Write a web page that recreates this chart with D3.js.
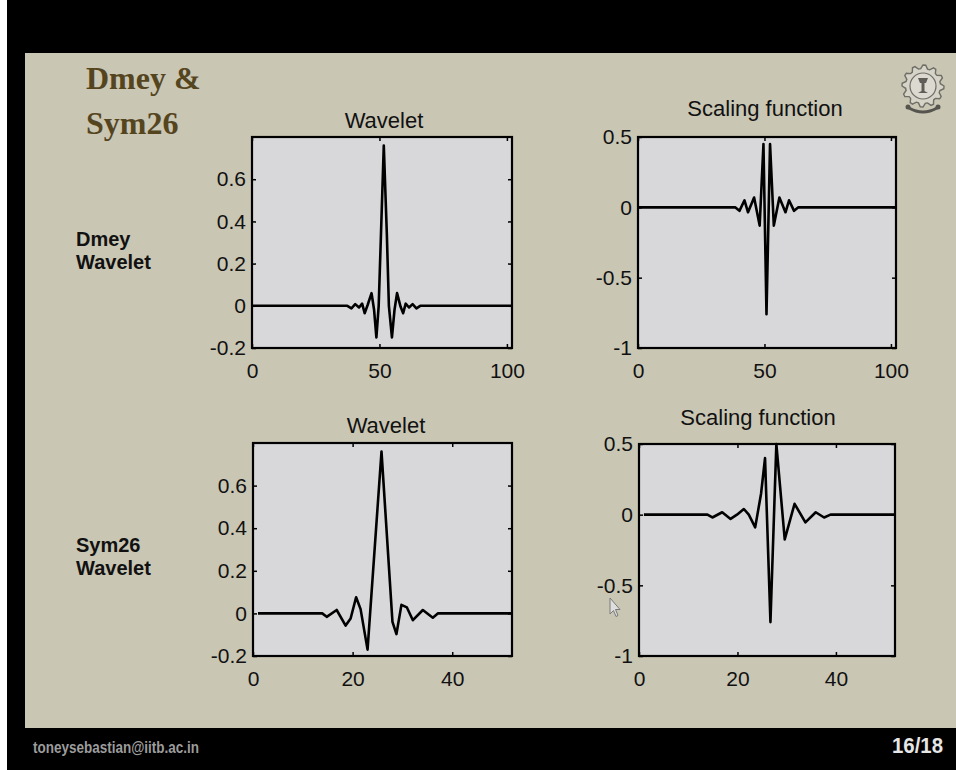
<!DOCTYPE html>
<html lang=en>
  <head>
    <meta charset="utf-8">
    <title>Dmey & Sym26</title>
    <style>
      body { margin: 0; background: #fff; }
      svg { display: block; }
      text { font-family: "Liberation Sans", Arial, sans-serif; }
    </style>
  </head>
  <body>
    <svg width="956" height="770"></svg>
    <script src="https://d3js.org/d3.v7.min.js"></script>
    <script>

      // values, [x, y]
      const dmeyWavelet = [
        [0, 0], [37.4, 0], [39.0, -0.012], [40.5, 0.008], [42.0, -0.008], [43.2, 0.01],
        [44.2, -0.035], [45.4, 0.005], [46.9, 0.06], [47.9, -0.02], [48.8, -0.15],
        [49.7, 0], [50.6, 0.34], [51.7, 0.76], [52.9, 0.34], [53.7, 0], [54.9, -0.15],
        [55.9, -0.02], [56.9, 0.06], [58.3, -0.005], [59.3, -0.035], [60.3, 0.01],
        [61.6, -0.008], [63.0, 0.008], [64.5, -0.012], [66.0, 0], [102, 0]
      ]
      const dmeyScaling = [
        [0, 0], [38.4, 0], [40.1, -0.025], [42.1, 0.05], [43.5, -0.035], [45.9, 0.07],
        [48.1, -0.13], [49.6, 0.45], [50.8, -0.76], [52.2, 0.45], [53.7, -0.13],
        [55.9, 0.07], [58.3, -0.035], [59.7, 0.05], [61.7, -0.025], [63.4, 0], [102, 0]
      ]
      const sym26Wavelet = [
        [1, 0], [13.9, 0], [14.8, -0.016], [16.8, 0.016], [18.6, -0.057], [19.6, -0.024],
        [20.7, 0.076], [21.6, 0.02], [23.0, -0.17], [25.8, 0.76], [28.0, -0.04],
        [28.8, -0.097], [29.8, 0.04], [30.9, 0.028], [32.1, -0.032], [34.1, 0.016],
        [36.1, -0.02], [37.1, 0], [52, 0]
      ]
      const sym26Scaling = [
        [1, 0], [13.9, 0], [14.9, -0.02], [16.9, 0.017], [18.6, -0.03], [19.9, 0],
        [21.3, 0.04], [22.3, 0], [23.6, -0.09], [24.8, 0.15], [25.6, 0.40], [26.7, -0.76],
        [27.9, 0.5], [29.6, -0.175], [31.6, 0.077], [33.8, -0.055], [35.9, 0.017],
        [37.6, -0.02], [38.9, 0], [52, 0]
      ]

      const dmeyXTicks = [0, 50, 100]
      const sym26XTicks = [0, 20, 40]
      const waveletYTicks = [-0.2, 0, 0.2, 0.4, 0.6]
      const scalingYTicks = [-1, -0.5, 0, 0.5]

      const slideTitle = ["Dmey &", "Sym26"]
      const rowLabels = [["Dmey", "Wavelet"], ["Sym26", "Wavelet"]]
      const panelTitles = ["Wavelet", "Scaling function"]

      const svg = d3.select("svg")

      // slide frame
      svg.append("rect").attr("x", 7).attr("width", 949).attr("height", 770).attr("fill", "#000")
      svg.append("rect").attr("x", 25).attr("y", 53).attr("width", 931).attr("height", 675).attr("fill", "#c9c6b4")

      svg.selectAll("text.title")
        .data(slideTitle)
        .enter().append("text")
        .attr("class", "title")
        .attr("x", 86)
        .attr("y", (d, i) => 89 + i * 45)
        .attr("fill", "#55451f")
        .style("font-family", "'Liberation Serif', 'Times New Roman', serif")
        .attr("font-weight", "bold")
        .attr("font-size", 32)
        .text(d => d)

      // row labels
      rowLabels.forEach(function(lines, r) {
        svg.selectAll("text.row" + r)
          .data(lines)
          .enter().append("text")
          .attr("x", 76)
          .attr("y", (d, i) => [246, 552][r] + i * 23)
          .attr("font-size", 20)
          .attr("font-weight", "bold")
          .attr("fill", "#111")
          .text(d => d)
      })

      const panels = [
        {x: 252, y: 137, w: 260, h: 211, xDomain: [0, 102], yDomain: [-0.2, 0.8], xTicks: dmeyXTicks, yTicks: waveletYTicks, data: dmeyWavelet, title: panelTitles[0], tx: 384, ty: 128},
        {x: 638, y: 137, w: 258, h: 211, xDomain: [0, 102], yDomain: [-1, 0.5], xTicks: dmeyXTicks, yTicks: scalingYTicks, data: dmeyScaling, title: panelTitles[1], tx: 765, ty: 116},
        {x: 253, y: 443, w: 259, h: 213, xDomain: [0, 52], yDomain: [-0.2, 0.8], xTicks: sym26XTicks, yTicks: waveletYTicks, data: sym26Wavelet, title: panelTitles[0], tx: 386, ty: 433},
        {x: 639, y: 444, w: 256, h: 212, xDomain: [0, 52], yDomain: [-1, 0.5], xTicks: sym26XTicks, yTicks: scalingYTicks, data: sym26Scaling, title: panelTitles[1], tx: 758, ty: 425}
      ]

      function styleAxis(sel) {
        sel.attr("font-size", 21)
          .attr("font-family", "'Liberation Sans', Arial, sans-serif")
        sel.select(".domain").remove()
        sel.selectAll(".tick line").attr("stroke", "#000").attr("stroke-width", 1.5)
        sel.selectAll(".tick text").attr("fill", "#111")
      }

      function drawPanel(p) {
        const g = svg.append("g").attr("transform", "translate(" + p.x + "," + p.y + ")")
        const x = d3.scaleLinear().domain(p.xDomain).range([0, p.w])
        const y = d3.scaleLinear().domain(p.yDomain).range([p.h, 0])

        g.append("rect").attr("width", p.w).attr("height", p.h).attr("fill", "#d8d8da")

        // ticks, pointing inward like matlab
        g.append("g")
          .attr("transform", "translate(0," + p.h + ")")
          .call(d3.axisBottom(x).tickValues(p.xTicks).tickFormat(d => String(d)).tickSizeInner(-4).tickSizeOuter(0).tickPadding(15))
          .call(styleAxis)
        g.append("g")
          .call(d3.axisTop(x).tickValues(p.xTicks).tickFormat("").tickSizeInner(-4).tickSizeOuter(0))
          .call(styleAxis)
        g.append("g")
          .call(d3.axisLeft(y).tickValues(p.yTicks).tickFormat(d => String(d)).tickSizeInner(-4).tickSizeOuter(0).tickPadding(6))
          .call(styleAxis)
        g.append("g")
          .attr("transform", "translate(" + p.w + ",0)")
          .call(d3.axisRight(y).tickValues(p.yTicks).tickFormat("").tickSizeInner(-4).tickSizeOuter(0))
          .call(styleAxis)

        g.append("path")
          .datum(p.data)
          .attr("fill", "none")
          .attr("stroke", "#000")
          .attr("stroke-width", 2.6)
          .attr("stroke-linejoin", "round")
          .attr("d", d3.line().x(d => x(d[0])).y(d => y(d[1])))

        g.append("rect").attr("width", p.w).attr("height", p.h)
          .attr("fill", "none").attr("stroke", "#000").attr("stroke-width", 2.2)

        svg.append("text")
          .attr("x", p.tx).attr("y", p.ty)
          .attr("text-anchor", "middle")
          .attr("font-size", 22)
          .attr("fill", "#111")
          .text(p.title)
      }

      panels.forEach(drawPanel)

      // institute logo, a gear with the emblem
      const logo = svg.append("g").attr("transform", "translate(923,86)")
      const gear = []
      for (let i = 0; i < 48; i++) {
        const a = i / 48 * 2 * Math.PI
        const r = (Math.floor(i / 2) % 2 === 0) ? 21 : 17.5
        gear.push([a, r])
      }
      logo.append("path")
        .attr("d", d3.lineRadial().angle(d => d[0]).radius(d => d[1]).curve(d3.curveLinearClosed)(gear))
        .attr("fill", "#d6d4c8").attr("stroke", "#6e6d66").attr("stroke-width", 1.4)
      logo.append("circle").attr("r", 13).attr("fill", "#dcdad0").attr("stroke", "#6e6d66").attr("stroke-width", 1.2)
      logo.append("path")
        .attr("d", "M-5,-8 L5,-8 L3,-3 L1.5,-3 L1.5,5 L5,7 L-5,7 L-1.5,5 L-1.5,-3 L-3,-3 Z")
        .attr("fill", "#5e5d57")
      logo.append("path")
        .attr("d", "M-14,22 Q0,30 14,22")
        .attr("fill", "none").attr("stroke", "#55544e").attr("stroke-width", 3)
      logo.append("circle").attr("cx", -15).attr("cy", 21).attr("r", 2.5).attr("fill", "#55544e")
      logo.append("circle").attr("cx", 15).attr("cy", 21).attr("r", 2.5).attr("fill", "#55544e")

      // mouse pointer left on the slide
      svg.append("path")
        .attr("d", "M610,598 L610,614 L613.5,610.5 L616,616.5 L618,615.5 L615.5,609.5 L620,609.5 Z")
        .attr("fill", "#dedede").attr("stroke", "#7a7a7a").attr("stroke-width", 1)

      // footer
      svg.append("text")
        .attr("x", 33).attr("y", 753)
        .attr("font-size", 16).attr("font-weight", "bold")
        .attr("fill", "#9c9c9c")
        .attr("textLength", 166).attr("lengthAdjust", "spacingAndGlyphs")
        .text("toneysebastian@iitb.ac.in")
      svg.append("text")
        .attr("x", 892).attr("y", 753)
        .attr("font-size", 22).attr("font-weight", "bold")
        .attr("fill", "#e6e6e6")
        .attr("textLength", 51).attr("lengthAdjust", "spacingAndGlyphs")
        .text("16/18")
    </script>
  </body>
</html>
